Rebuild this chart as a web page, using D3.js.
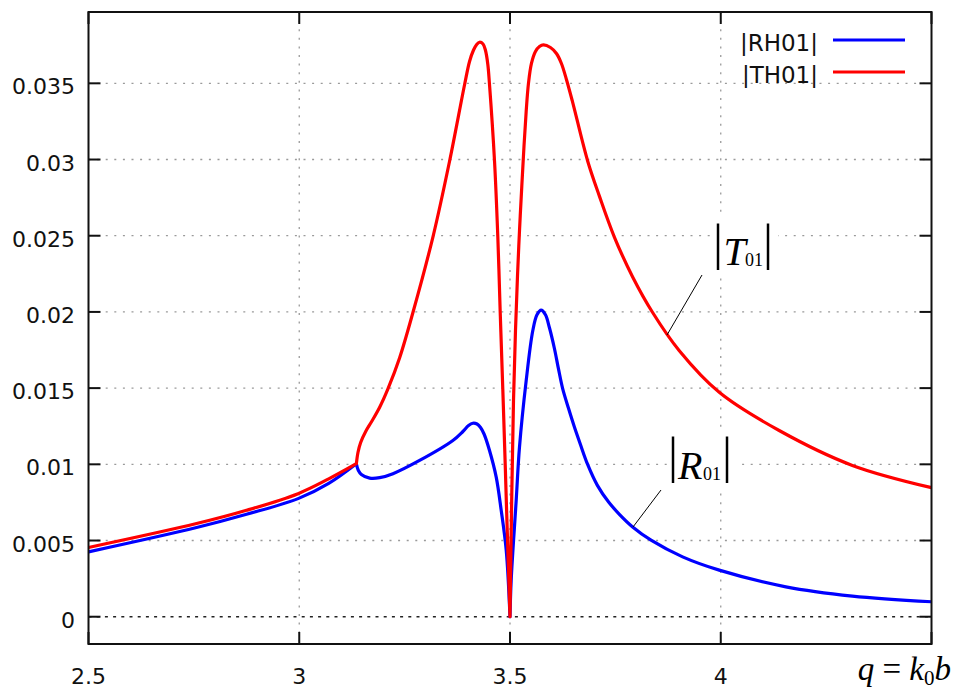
<!DOCTYPE html>
<html><head><meta charset="utf-8">
<script src="https://cdn.jsdelivr.net/npm/d3@7"></script>
<style>body{margin:0;background:#fff}svg{display:block}</style>
</head><body>
<svg id="c" width="956" height="690"></svg>
<script>
// ---- data ----
const xTicks = [2.5, 3, 3.5, 4, 4.5];
const xTickLabels = ["2.5", "3", "3.5", "4", ""];
const xGrid = [3, 3.5, 4];
const yTicks = [0, 0.005, 0.01, 0.015, 0.02, 0.025, 0.03, 0.035];
const yTickLabels = ["0", "0.005", "0.01", "0.015", "0.02", "0.025", "0.03", "0.035"];

// q values where the curves have a cusp (threshold and zero)
const cusps = [3.1355, 3.5];

const qRH = [2.5, 2.7564, 2.8749, 2.9972, 3.0699, 3.1355, 3.14, 3.1474, 3.1671, 3.1908, 3.2223, 3.2855, 3.3645, 3.3882, 3.4017, 3.4118, 3.4218, 3.4301, 3.4384, 3.4514, 3.4673, 3.4791, 3.491, 3.5, 3.5028, 3.5147, 3.5225, 3.5384, 3.554, 3.564, 3.5739, 3.5841, 3.5936, 3.6055, 3.6149, 3.6251, 3.6386, 3.6528, 3.6671, 3.6844, 3.7073, 3.7344, 3.7595, 3.791, 3.8346, 3.9095, 3.9964, 4.1545, 4.3123, 4.5];
const rh01 = [0.004254, 0.005851, 0.006721, 0.007749, 0.00875, 0.010039, 0.009614, 0.009339, 0.009097, 0.009123, 0.009385, 0.010255, 0.011564, 0.012153, 0.012546, 0.012696, 0.012644, 0.012415, 0.01199, 0.01091, 0.009162, 0.006983, 0.004365, 0, 0.002402, 0.007637, 0.011126, 0.015491, 0.018763, 0.01981, 0.020118, 0.01981, 0.01896, 0.017585, 0.016276, 0.014948, 0.013691, 0.012448, 0.011302, 0.009974, 0.008619, 0.007507, 0.006721, 0.00589, 0.00502, 0.003927, 0.003056, 0.001963, 0.001355, 0.000982];

const qTH = [2.5, 2.7564, 2.8749, 2.9972, 3.0699, 3.1355, 3.1393, 3.1457, 3.1576, 3.1718, 3.1908, 3.2104, 3.2382, 3.2697, 3.3171, 3.3566, 3.3922, 3.404, 3.4135, 3.4206, 3.4277, 3.436, 3.4419, 3.4474, 3.4514, 3.4633, 3.4711, 3.4768, 3.4829, 3.4891, 3.4912, 3.5, 3.504, 3.5083, 3.513, 3.5178, 3.5225, 3.528, 3.5332, 3.5384, 3.5438, 3.5509, 3.5604, 3.5699, 3.5794, 3.596, 3.6102, 3.622, 3.6339, 3.6481, 3.6844, 3.7121, 3.7476, 3.791, 3.8384, 3.9017, 3.9964, 4.1386, 4.3123, 4.5];
const th01 = [0.004542, 0.006113, 0.006983, 0.008076, 0.009045, 0.010039, 0.010779, 0.011433, 0.012153, 0.012808, 0.013743, 0.014948, 0.016996, 0.019961, 0.024915, 0.029889, 0.034908, 0.036433, 0.037186, 0.037533, 0.037696, 0.037579, 0.037153, 0.036237, 0.034908, 0.029889, 0.024915, 0.019961, 0.014948, 0.009601, 0.007637, 0, 0.007637, 0.014182, 0.018763, 0.022363, 0.025307, 0.028253, 0.030871, 0.033161, 0.034993, 0.036302, 0.037088, 0.037415, 0.037526, 0.03735, 0.036957, 0.036302, 0.035255, 0.033816, 0.029889, 0.027598, 0.024915, 0.022297, 0.019961, 0.017454, 0.014725, 0.012219, 0.009928, 0.008469];

const seriesNames = ["|RH01|", "|TH01|"];
const seriesColors = ["#0000ff", "#ff0000"];

// ---- layout ----
const L = 88.5, R = 931.5, T = 12, B = 644;
const svg = d3.select("#c");
const x = d3.scaleLinear().domain([2.5, 4.5]).range([L, R]);
const y = d3.scaleLinear().domain([-0.00179, 0.03968]).range([B, T]);
const tickFont = "'DejaVu Sans', Verdana, sans-serif";

// grid
const g = svg.append("g");
g.selectAll(".gx").data(xGrid).enter().append("line")
  .attr("x1", d => x(d)).attr("x2", d => x(d)).attr("y1", T).attr("y2", B)
  .attr("stroke", "#9a9a9a").attr("stroke-width", 1.3).attr("stroke-dasharray", "2,6.6");
g.selectAll(".gy").data(yTicks).enter().append("line")
  .attr("x1", L).attr("x2", R).attr("y1", d => y(d)).attr("y2", d => y(d))
  .attr("stroke", d => d === 0 ? "#222" : "#9a9a9a")
  .attr("stroke-width", d => d === 0 ? 1.6 : 1.3)
  .attr("stroke-dasharray", d => d === 0 ? "3,5.2" : "2,6.6");

// label background boxes (hide grid behind annotations)
svg.append("rect").attr("x", 712).attr("y", 214).attr("width", 66).attr("height", 63).attr("fill", "#fff");
svg.append("rect").attr("x", 667).attr("y", 430).attr("width", 73).attr("height", 60).attr("fill", "#fff");

// axes: ticks inward on all four sides
const axG = svg.append("g").attr("stroke", "#111").attr("stroke-width", 2);
const tl = 12;
xTicks.forEach(v => {
  axG.append("line").attr("x1", x(v)).attr("x2", x(v)).attr("y1", B).attr("y2", B - tl);
  axG.append("line").attr("x1", x(v)).attr("x2", x(v)).attr("y1", T).attr("y2", T + tl);
});
yTicks.forEach(v => {
  axG.append("line").attr("x1", L).attr("x2", L + tl).attr("y1", y(v)).attr("y2", y(v));
  axG.append("line").attr("x1", R).attr("x2", R - tl).attr("y1", y(v)).attr("y2", y(v));
});

// tick labels
svg.append("g").selectAll("text").data(xTicks).enter().append("text")
  .attr("x", d => x(d)).attr("y", 684).attr("text-anchor", "middle")
  .attr("font-family", tickFont).attr("font-size", 22).attr("fill", "#111")
  .text((d, i) => xTickLabels[i]);
svg.append("g").selectAll("text").data(yTicks).enter().append("text")
  .attr("x", 75).attr("y", d => y(d) + 11).attr("text-anchor", "end")
  .attr("font-family", tickFont).attr("font-size", 22).attr("fill", "#111")
  .text((d, i) => yTickLabels[i]);

// curves: split at cusps, each piece a smooth curve
svg.append("clipPath").attr("id", "clip").append("rect")
  .attr("x", L).attr("y", T).attr("width", R - L).attr("height", B - T);
const line = d3.line().x(d => x(d[0])).y(d => y(d[1])).curve(d3.curveCatmullRom.alpha(0.5));
function pieces(qs, vs) {
  const pts = qs.map((q, i) => [q, vs[i]]);
  const out = []; let cur = [];
  pts.forEach(p => {
    cur.push(p);
    if (cusps.includes(p[0])) { out.push(cur); cur = [p]; }
  });
  if (cur.length > 1) out.push(cur);
  return out;
}
[[qRH, rh01], [qTH, th01]].forEach((s, i) => {
  const d = pieces(s[0], s[1]).map(p => line(p)).join("");
  svg.append("path").attr("d", d).attr("fill", "none")
    .attr("stroke", seriesColors[i]).attr("stroke-width", 3.2)
    .attr("stroke-linejoin", "round").attr("stroke-linecap", "round")
    .attr("clip-path", "url(#clip)");
});

// frame
svg.append("rect").attr("x", L).attr("y", T).attr("width", R - L).attr("height", B - T)
  .attr("fill", "none").attr("stroke", "#111").attr("stroke-width", 2);

// legend
const legY = [40, 72];
seriesNames.forEach((n, i) => {
  svg.append("text").attr("x", 818).attr("y", legY[i] + 11).attr("text-anchor", "end")
    .attr("font-family", tickFont).attr("font-size", 23).attr("fill", "#111").text(n);
  svg.append("line").attr("x1", 833).attr("x2", 905).attr("y1", legY[i]).attr("y2", legY[i])
    .attr("stroke", seriesColors[i]).attr("stroke-width", 3.2);
});

// annotations
const serif = "'Liberation Serif', 'Times New Roman', serif";
svg.append("line").attr("x1", 702).attr("y1", 275).attr("x2", 667).attr("y2", 335)
  .attr("stroke", "#000").attr("stroke-width", 1);
svg.append("line").attr("x1", 661).attr("y1", 490).attr("x2", 633).attr("y2", 527)
  .attr("stroke", "#000").attr("stroke-width", 1);

function absLabel(letter, bx1, bx2, barBottom, lx, base, sx) {
  const t = svg.append("text").attr("font-family", serif).attr("fill", "#000");
  t.append("tspan").attr("x", bx1).attr("y", barBottom).attr("font-size", 50).text("|");
  t.append("tspan").attr("x", lx).attr("y", base).attr("font-size", 40).attr("font-style", "italic").text(letter);
  t.append("tspan").attr("x", sx).attr("y", base + 1).attr("font-size", 18).text("01");
  t.append("tspan").attr("x", bx2).attr("y", barBottom).attr("font-size", 50).text("|");
}
absLabel("T", 713, 763, 259, 723.5, 265, 745);
absLabel("R", 668, 722, 472, 678, 479, 703);

// axis title
const xt = svg.append("text").attr("x", 951).attr("y", 680).attr("text-anchor", "end")
  .attr("font-family", serif).attr("font-size", 33).attr("fill", "#000");
xt.append("tspan").attr("font-style", "italic").text("q");
xt.append("tspan").text(" = ");
xt.append("tspan").attr("font-style", "italic").text("k");
xt.append("tspan").attr("font-size", 21).attr("dy", 5).text("0");
xt.append("tspan").attr("font-style", "italic").attr("dy", -5).text("b");
</script>
</body></html>
